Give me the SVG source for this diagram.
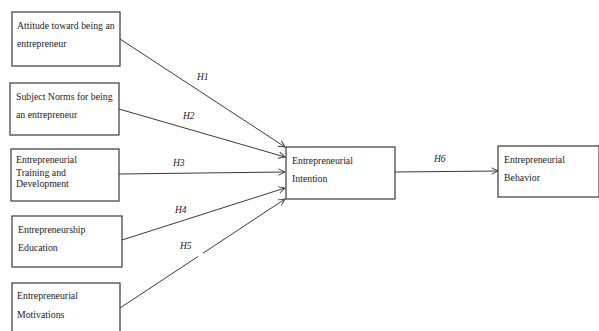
<svg xmlns="http://www.w3.org/2000/svg" width="599" height="331" viewBox="0 0 599 331">
<style>
.box{fill:#fff;stroke:#3a3a3a;stroke-width:1.2}
text{font-family:'Liberation Serif',serif;fill:#222}
.t{font-size:9.8px}
.h{font-size:9.5px;font-style:italic}
.c{stroke:#3a3a3a;stroke-width:1;fill:none}
</style>
<defs>
<marker id="ah" viewBox="0 0 10 10" refX="9" refY="5" markerWidth="8" markerHeight="8" orient="auto" markerUnits="userSpaceOnUse">
<path d="M1,1 L9,5 L1,9" fill="none" stroke="#3a3a3a" stroke-width="1.2"/>
</marker>
</defs>
<rect width="599" height="331" fill="#fff"/>
<g id="n1"><rect class="box" x="12" y="12" width="108" height="54"/><text class="t" x="17" y="29">Attitude toward being an</text><text class="t" x="17" y="47">entrepreneur</text></g>
<g id="n2"><rect class="box" x="10" y="83" width="109" height="52"/><text class="t" x="16" y="100">Subject Norms for being</text><text class="t" x="16" y="118">an entrepreneur</text></g>
<g id="n3"><rect class="box" x="11" y="149" width="108" height="52"/><text class="t" x="16" y="163">Entrepreneurial</text><text class="t" x="16" y="175.5">Training and</text><text class="t" x="16" y="187">Development</text></g>
<g id="n4"><rect class="box" x="12" y="216" width="110" height="51"/><text class="t" x="18" y="233">Entrepreneurship</text><text class="t" x="18" y="251">Education</text></g>
<g id="n5"><rect class="box" x="12" y="283" width="108" height="52"/><text class="t" x="17" y="299">Entrepreneurial</text><text class="t" x="17" y="318">Motivations</text></g>
<g id="n6"><rect class="box" x="286" y="147" width="109" height="52"/><text class="t" x="292" y="164">Entrepreneurial</text><text class="t" x="292" y="182">Intention</text></g>
<g id="n7"><rect class="box" x="498" y="146" width="101" height="51"/><text class="t" x="504" y="163">Entrepreneurial</text><text class="t" x="504" y="181">Behavior</text></g>
<g id="connectors">
<line class="c" x1="120" y1="39" x2="285" y2="147" marker-end="url(#ah)"/>
<line class="c" x1="119" y1="109" x2="285" y2="157" marker-end="url(#ah)"/>
<line class="c" x1="119" y1="174" x2="285" y2="172" marker-end="url(#ah)"/>
<line class="c" x1="122" y1="240" x2="285" y2="188" marker-end="url(#ah)"/>
<line class="c" x1="120" y1="308" x2="198" y2="256.5"/>
<line class="c" x1="203" y1="253.2" x2="285" y2="199" marker-end="url(#ah)"/>
<line class="c" x1="395" y1="172" x2="498" y2="171" marker-end="url(#ah)"/>
<text class="h" x="197" y="80">H1</text>
<text class="h" x="183" y="119">H2</text>
<text class="h" x="173" y="166">H3</text>
<text class="h" x="175" y="213">H4</text>
<text class="h" x="180" y="249">H5</text>
<text class="h" x="434" y="162">H6</text>
</g>
</svg>
